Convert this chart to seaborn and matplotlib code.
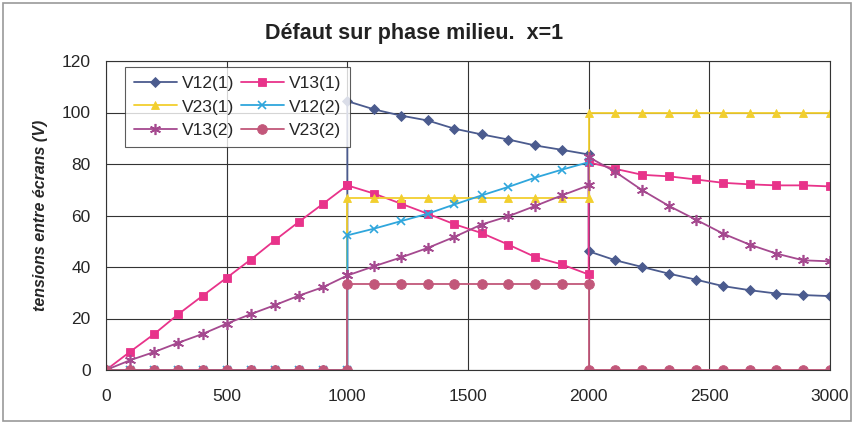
import numpy as np
import pandas as pd
import seaborn as sns
import matplotlib.pyplot as plt
from matplotlib.patches import Rectangle

# x positions: 0..1000 step 100, then 1000..2000 and 2000..3000 in 9 steps each
x_seg1 = [0, 100, 200, 300, 400, 500, 600, 700, 800, 900, 1000]
x_seg2 = [1000, 1111, 1222, 1333, 1444, 1556, 1667, 1778, 1889, 2000]
x_seg3 = [2000, 2111, 2222, 2333, 2444, 2556, 2667, 2778, 2889, 3000]
x_all = x_seg1 + x_seg2 + x_seg3

zeros11 = [0] * 11
nan10 = [np.nan] * 10

v12_1 = zeros11 + [104.4, 101.2, 98.8, 96.9, 93.7, 91.5, 89.5, 87.2, 85.5, 83.7] \
    + [46.1, 42.6, 40.0, 37.4, 35.1, 32.6, 31.0, 29.7, 29.1, 28.7]
v13_1 = [0, 7.1, 14.0, 21.7, 28.8, 35.8, 42.9, 50.4, 57.6, 64.6, 71.7] \
    + [71.7, 68.5, 64.6, 60.7, 56.6, 53.2, 48.7, 43.9, 41.0, 37.1] \
    + [80.7, 78.1, 75.8, 75.2, 74.0, 72.7, 72.1, 71.7, 71.7, 71.3]
v23_1 = zeros11 + [66.7] * 10 + [100.0] * 10
v12_2 = zeros11 + [52.3, 54.9, 57.8, 60.7, 64.3, 67.8, 71.1, 74.7, 77.8, 80.7] + nan10
v13_2 = [0, 3.8, 7.0, 10.6, 14.0, 18.0, 21.7, 25.2, 28.9, 32.2, 36.7] \
    + [36.7, 40.3, 43.7, 47.4, 51.7, 56.5, 59.7, 63.7, 67.8, 71.7] \
    + [82.7, 76.9, 69.8, 63.7, 58.4, 53.0, 48.7, 45.2, 42.6, 42.2]
v23_2 = zeros11 + [33.3] * 10 + [0] * 10

series_names = ["V12(1)", "V13(1)", "V23(1)", "V12(2)", "V13(2)", "V23(2)"]
series_values = [v12_1, v13_1, v23_1, v12_2, v13_2, v23_2]

colors = {"V12(1)": "#4b5b8e", "V13(1)": "#e8338a", "V23(1)": "#f2cf2e",
          "V12(2)": "#2fa6dc", "V13(2)": "#a5498f", "V23(2)": "#c2577a"}
markers = {"V12(1)": "D", "V13(1)": "s", "V23(1)": "^",
           "V12(2)": "x", "V13(2)": (6, 2, 0), "V23(2)": "o"}
msize = {"V12(1)": 5, "V13(1)": 6, "V23(1)": 6, "V12(2)": 6, "V13(2)": 8, "V23(2)": 7}

rows = []
for name, vals in zip(series_names, series_values):
    for i, (xv, yv) in enumerate(zip(x_all, vals)):
        rows.append({"x": xv, "V": yv, "serie": name, "idx": i})
df = pd.DataFrame(rows)

sns.set_style("white")
plt.rcParams["font.family"] = ["Liberation Sans", "DejaVu Sans"]

fig = plt.figure(figsize=(8.54, 4.24), dpi=100)
ax = fig.add_axes([106 / 854, 1 - 370 / 424, (830 - 106) / 854, (370 - 61) / 424])

for name in series_names:
    d = df[df["serie"] == name].dropna()
    sns.lineplot(data=d, x="x", y="V", sort=False, estimator=None, ax=ax,
                 color=colors[name], marker=markers[name], markersize=msize[name],
                 markeredgecolor=colors[name], markeredgewidth=1.2 if name in ("V12(2)", "V13(2)") else 0.6,
                 linewidth=1.3, label=name)

ax.set_xlim(0, 3000)
ax.set_ylim(0, 120)
ax.set_xticks(range(0, 3001, 500))
ax.set_yticks(range(0, 121, 20))
ax.grid(True, color="#333333", linewidth=0.8)
ax.set_axisbelow(True)
for s in ax.spines.values():
    s.set_color("#333333")
    s.set_linewidth(0.8)
ax.tick_params(axis="both", labelsize=12.5, length=5, color="#333333", pad=6)
ax.tick_params(axis="x", pad=9)
ax.set_xlabel("")
ax.set_ylabel("tensions entre écrans (V)", fontsize=11.5, style="italic", fontweight="bold", labelpad=10)
fig.text(414 / 854, 1 - 33 / 424, "Défaut sur phase milieu.  x=1", ha="center", va="center",
         fontsize=15.5, fontweight="bold", color="#222222")

handles, labels = ax.get_legend_handles_labels()
hmap = dict(zip(labels, handles))
order = ["V12(1)", "V23(1)", "V13(2)", "V13(1)", "V12(2)", "V23(2)"]
leg = ax.legend([hmap[k] for k in order], order, ncol=2, loc="upper left",
                bbox_to_anchor=(0.026, 0.981), fontsize=12.5, frameon=True, fancybox=False,
                handlelength=2.5, columnspacing=0.35, handletextpad=0.3, labelspacing=0.5,
                borderpad=0.5, borderaxespad=0)
leg.get_frame().set_edgecolor("#333333")
leg.get_frame().set_linewidth(0.8)

fig.patches.append(Rectangle((0.004, 0.006), 0.992, 0.988, transform=fig.transFigure,
                             fill=False, edgecolor="#999999", linewidth=1.2))

fig.savefig("out.png", dpi=100)
